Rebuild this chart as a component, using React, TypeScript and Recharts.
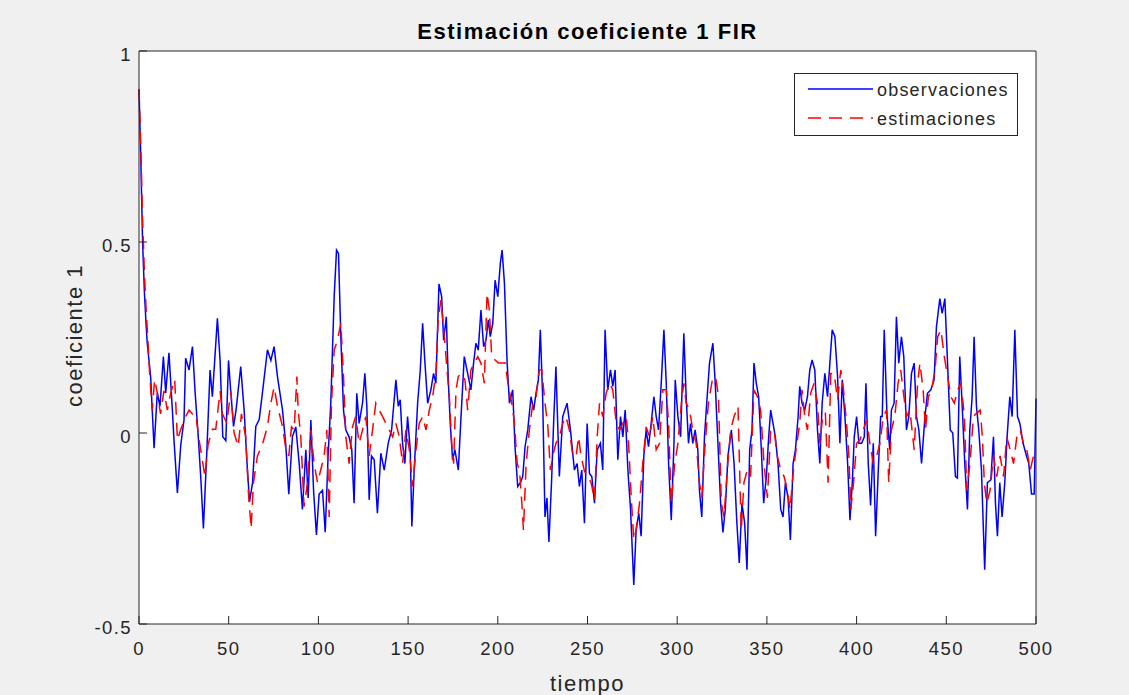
import { LineChart, Line, XAxis, YAxis, CartesianGrid, Legend, Label } from "recharts";

const tiempoObs = [
  0, 1, 2, 3, 4, 4.6, 6.5, 8.4, 10.2, 11.7, 13.6, 14.9, 16.7, 18.6, 19.5, 21.4, 23.3, 25.1, 26, 27.9,
  29.8, 31.3, 32.9, 34.4, 35.9, 37.8, 39.6, 40.9, 42.2, 43.7, 45.2, 46.7, 48.4, 49.9, 51.2, 52.7, 54.1, 56.7, 58.6, 60.1,
  61.6, 63.3, 65.1, 67, 68.8, 71.6, 73.5, 75.3, 77.2, 80, 81.8, 83.5, 85.5, 87.4, 89.3, 91.1, 93, 94.3, 95.8, 97.3,
  98.9, 100.4, 102.3, 103.8, 105.4, 106.9, 108.8, 110.1, 111.2, 112.5, 114, 115.3, 117.1, 118.6, 119.9, 121.4, 122.7, 124.6, 125.9, 127,
  128.3, 129.6, 131.1, 132.9, 134.8, 136.7, 138.9, 140.8, 143.2, 144.5, 145.6, 146.9, 148.2, 149.7, 151.2, 152.1, 153.4, 155.3, 156.8, 158.1,
  159.4, 160.9, 162.7, 164.2, 165.5, 167.2, 168.7, 169.8, 171.3, 172.4, 173.5, 174.8, 176.1, 178, 179.5, 181.3, 183.2, 185, 186.5, 187.8,
  189.1, 190.6, 192.1, 193.4, 194.7, 195.8, 197.2, 198.5, 200, 201.4, 202.4, 203.7, 205.2, 206.5, 208.3, 209.6, 211.1, 212.6, 213.9, 215.2,
  216.7, 218.5, 220, 221.3, 222.6, 223.7, 225, 226.3, 227.4, 228.5, 230, 231.1, 232.4, 234.3, 236.2, 238.6, 240.5, 242.7, 244.2, 245.5,
  246.8, 248.3, 249.8, 251.1, 252.4, 253.9, 255.4, 257.2, 258.5, 259.8, 261.3, 262.8, 264.1, 265.4, 266.9, 268.4, 269.7, 271, 272.5, 274,
  275.8, 277.1, 278.6, 279.9, 281.4, 282.7, 284, 285.5, 287, 288.3, 289.6, 291.1, 292.6, 293.9, 295.2, 296.7, 298.2, 298.9, 300.4, 301.9,
  303.7, 305, 306.3, 307.4, 308.7, 310, 311.5, 312.4, 313.7, 315.2, 316.7, 318, 319.9, 321.2, 322.7, 324.2, 325.5, 326.8, 328.3, 330.2,
  331.7, 333.2, 334.6, 336.1, 337.6, 338.9, 340.4, 341.7, 342.8, 344.1, 345.4, 346.9, 348.2, 349.7, 351, 352.1, 353.4, 354.7, 356.2, 357.7,
  359, 360.3, 361.8, 363.1, 364.6, 365.9, 367.4, 368.3, 369.6, 371.1, 372.6, 373.9, 375.2, 376.7, 378.2, 379.5, 380.8, 382.3, 383.8, 385.1,
  386.4, 387.9, 389.4, 390.7, 392, 393.5, 395, 396.3, 397.6, 398.7, 400, 401.3, 402.8, 404.3, 405.2, 406.5, 407.8, 409.3, 410.6, 412.1,
  413.4, 414.3, 415.4, 416.9, 418.5, 419.4, 420.9, 422.2, 423.5, 425, 426.3, 427.8, 429.1, 430.6, 432.1, 433.4, 434.7, 436.2, 438.1, 439.5,
  441.4, 443.2, 444.5, 446.4, 447.7, 449.2, 450.7, 452.2, 453.6, 455.1, 456.2, 457.5, 458.8, 460.3, 461.8, 463.1, 464.4, 465.5, 466.8, 468.1,
  469.6, 471.4, 472.9, 474.8, 476.3, 477.4, 478.5, 479.8, 481.1, 482.6, 483.9, 485.4, 486.7, 488.2, 489.7, 491, 492.8, 494.7, 496, 497.5,
  499, 500,
];

const observaciones = [
  0.9, 0.72, 0.5, 0.37, 0.28, 0.235, 0.147, -0.04, 0.105, 0.07, 0.2, 0.105, 0.21, 0.06, -0.018, -0.157, -0.03, 0.034, 0.196, 0.165,
  0.226, 0.105, 0, -0.114, -0.25, -0.05, 0.165, 0.095, 0.19, 0.3, 0.19, -0.01, -0.02, 0.19, 0.105, 0.017, 0.06, 0.174, 0.06, -0.07,
  -0.18, -0.13, 0.017, 0.035, 0.105, 0.218, 0.19, 0.226, 0.147, 0.06, -0.03, -0.16, -0.01, 0.016, -0.08, -0.2, -0.044, -0.17, 0.034, -0.15,
  -0.267, -0.16, -0.15, -0.26, -0.06, 0.078, 0.357, 0.479, 0.47, 0.252, 0.06, 0.008, -0.01, -0.044, -0.184, 0.104, 0.025, 0.078, 0.156, 0.07,
  -0.175, -0.06, -0.07, -0.21, -0.053, -0.097, -0.027, 0.008, 0.139, 0.07, 0.087, -0.027, -0.08, 0.043, -0.044, -0.245, -0.097, 0.078, 0.165, 0.287,
  0.183, 0.078, 0.113, 0.156, 0.13, 0.39, 0.357, 0.243, 0.304, 0.139, 0.025, -0.07, -0.044, -0.097, 0.043, 0.2, 0.156, 0.113, 0.183, 0.235,
  0.217, 0.322, 0.226, 0.243, 0.296, 0.252, 0.287, 0.4, 0.357, 0.444, 0.479, 0.392, 0.183, 0.078, 0.113, -0.036, -0.14, -0.13, -0.114, -0.036,
  0.008, 0.095, 0.06, 0.104, 0.139, 0.27, 0.095, -0.22, -0.17, -0.285, -0.123, 0.025, 0.174, -0.114, 0.043, 0.078, 0.008, -0.097, -0.08, -0.14,
  -0.097, -0.236, 0.025, -0.106, -0.114, -0.184, -0.044, -0.027, -0.097, 0.27, 0.113, 0.165, 0.122, 0.165, -0.07, 0.043, -0.01, 0.06, -0.097, -0.2,
  -0.398, -0.254, -0.21, -0.27, -0.06, 0.008, -0.036, 0.025, 0.095, 0.043, 0.008, 0.13, 0.27, 0.13, -0.08, -0.228, -0.027, 0.139, 0.043, -0.01,
  0.261, 0.095, -0.027, 0.025, -0.027, 0.008, -0.044, -0.15, -0.22, -0.01, 0.095, 0.183, 0.235, 0.13, -0.027, -0.184, -0.26, -0.2, -0.06, 0.008,
  -0.08, -0.23, -0.34, -0.184, -0.236, -0.358, -0.044, 0.008, 0.183, 0.13, 0.095, -0.044, -0.184, -0.114, -0.01, 0.06, 0.025, -0.01, -0.08, -0.2,
  -0.22, -0.13, -0.17, -0.28, -0.08, -0.044, 0.043, 0.122, 0.078, 0.06, 0.095, 0.165, 0.191, 0.165, 0.008, -0.08, 0.078, 0.156, 0.095, 0.183,
  0.27, 0.252, 0.148, -0.027, 0.139, 0.043, -0.08, -0.228, -0.13, -0.01, 0.043, -0.027, -0.027, -0.01, 0.13, -0.08, -0.19, -0.027, -0.27, -0.097,
  0.043, 0.043, 0.27, 0.05, -0.044, 0.06, 0.078, 0.304, 0.183, 0.252, 0.2, 0.008, 0.043, 0.156, 0.183, 0.043, 0.008, -0.08, 0.043, 0.104,
  0.113, 0.139, 0.278, 0.352, 0.313, 0.352, 0.183, 0.008, 0, -0.114, -0.118, 0.2, 0.078, -0.08, -0.2, 0.008, 0.095, 0.252, 0.07, 0.008,
  -0.097, -0.358, -0.13, -0.123, -0.01, -0.184, -0.27, -0.13, -0.22, -0.13, -0.01, 0.095, 0.043, 0.27, 0.043, 0.025, -0.027, -0.06, -0.08, -0.16,
  -0.16, 0.09,
];

const tiempoEst = [
  0, 1, 2, 3, 4, 5, 6, 7.4, 8.7, 10.2, 12, 13.9, 15.8, 17.7, 19.9, 21.4, 23.3, 26, 27.9, 29.8,
  31.6, 33.5, 35.3, 36.7, 38.5, 40.9, 42.8, 45.2, 46.5, 48.9, 51.2, 53, 55.3, 57.1, 59.5, 61, 62.5, 63.8, 66, 68.8,
  71.6, 73.5, 75.3, 77.2, 80, 81.8, 83.5, 85, 86.5, 88, 88.7, 90.2, 92, 93.9, 95.8, 97.6, 99.5, 101.3, 103.2, 104.7,
  106, 107.3, 108.8, 110.6, 112.5, 114, 115.3, 117.1, 119, 120.8, 122.7, 124.6, 126.4, 128.3, 130.2, 132, 133.9, 135.8, 137.6, 139.5,
  141.4, 143.2, 145.1, 146.9, 148.8, 150.7, 152.5, 154.4, 156.2, 158.1, 160, 161.8, 163.7, 165.5, 166.8, 168.3, 170.2, 171.7, 173, 174.3,
  175.4, 176.7, 178, 179.9, 181.7, 183.2, 185, 186.9, 188.8, 190.6, 192.5, 194, 195.3, 196.6, 198.5, 200.3, 202.2, 204.1, 205.9, 207.8,
  209.3, 210.8, 212.1, 213.4, 214.3, 215.8, 217.6, 219.5, 221.3, 223.2, 224.5, 226.3, 227.8, 229.3, 230.6, 232.4, 234.3, 236.2, 238, 239.9,
  241.8, 243.7, 245, 246.4, 248.3, 250.2, 252, 253.9, 255.4, 256.7, 258.5, 260.4, 262.3, 264.1, 266, 267.9, 269.7, 271.6, 272.9, 274.4,
  275.8, 277.1, 279, 280.8, 282.7, 284.6, 286.4, 288.3, 290.2, 292, 293.9, 295.2, 296.7, 298.6, 300.4, 302.3, 303.7, 305, 306.9, 308.7,
  310.6, 312.4, 313.7, 315.6, 317.4, 319.9, 321.7, 323, 324.6, 326.1, 327.9, 329.8, 331.7, 333.9, 334.8, 335.7, 337.2, 339.1, 340.9, 342.8,
  344.7, 346.5, 348.4, 350.3, 352.1, 354, 355.8, 357.7, 359.6, 361.4, 362.9, 364.8, 366.7, 368.3, 369.6, 371.1, 372.6, 374.4, 376.3, 378.2,
  379.5, 381.3, 382.6, 384.1, 385.6, 387.5, 389.4, 391.2, 392.7, 394.4, 395.7, 396.8, 398.3, 400, 401.9, 403.7, 405.6, 407.4, 409.3, 411.2,
  413, 414.9, 416.7, 417.9, 419.4, 421.3, 423.1, 424.6, 425.9, 427.8, 429.7, 432.1, 434, 435.3, 437.1, 438.4, 440, 441.8, 443.7, 445.2,
  447, 448.9, 450.7, 452.6, 454.5, 456.3, 458.2, 460.1, 461.4, 463.2, 465.1, 467, 468.9, 470.1, 471.2, 472.5, 474.4, 476.3, 478.1, 480,
  481.9, 483.7, 485.6, 487.5, 489.3, 491.2, 493, 494.9, 496.8, 498.6, 500,
];

const estimaciones = [
  0.9, 0.75, 0.56, 0.42, 0.32, 0.24, 0.15, 0.06, 0.14, 0.105, 0.05, 0.11, 0.06, 0.105, 0.14, -0.018, 0.01, 0.043, 0.06, 0.05,
  0.05, -0.018, -0.07, -0.114, -0.03, 0.01, 0.01, 0.11, 0.05, 0.026, 0.11, 0, -0.035, 0.05, -0.01, -0.157, -0.25, -0.13, -0.06, -0.03,
  0.017, 0.078, 0.12, 0.07, 0.017, -0.04, -0.06, 0.016, 0.008, 0.148, 0.06, -0.01, -0.193, -0.13, 0.008, -0.08, -0.13, -0.097, -0.06, 0.008,
  -0.22, 0.078, 0.217, 0.243, 0.287, 0.148, -0.01, -0.08, 0.016, 0.043, -0.027, 0.008, 0.043, -0.06, 0.008, 0.078, 0.06, 0.043, 0.025, 0.008,
  -0.01, 0.025, -0.01, -0.08, 0.008, -0.044, -0.14, -0.044, 0.025, 0.043, 0.008, 0.06, 0.095, 0.156, 0.3, 0.348, 0.252, 0.165, 0.095, -0.027,
  -0.08, 0.113, 0.148, 0.156, 0.139, 0.06, 0.165, 0.183, 0.2, 0.183, 0.13, 0.366, 0.322, 0.2, 0.191, 0.183, 0.183, 0.183, 0.122, 0.078,
  0.025, -0.08, -0.097, -0.184, -0.254, -0.08, 0.008, 0.078, 0.095, 0.165, 0.165, 0.078, 0.025, -0.097, -0.06, -0.027, -0.01, 0.025, 0.043, 0.008,
  -0.06, -0.06, -0.01, -0.06, -0.1, -0.114, -0.13, -0.175, -0.01, 0.078, 0.043, 0.104, 0.13, 0.113, 0.025, 0.008, 0.025, 0.043, -0.027, -0.17,
  -0.28, -0.254, -0.184, -0.08, 0.016, -0.01, 0.043, -0.044, -0.027, 0.113, 0.113, 0.025, -0.184, -0.08, -0.027, 0.078, 0.13, 0.078, 0.06, 0.008,
  -0.027, -0.13, -0.17, -0.027, 0.078, 0.148, 0.139, 0.095, -0.184, -0.22, -0.097, 0.008, 0.043, 0.07, -0.097, -0.254, -0.13, -0.097, -0.114, 0.113,
  0.095, 0.06, -0.08, -0.17, 0.008, 0.008, -0.06, -0.097, -0.114, -0.15, -0.2, -0.097, -0.027, 0.025, 0.113, 0.043, 0.008, 0.104, 0.13, 0.078,
  -0.027, 0.052, 0.052, -0.13, 0.156, 0.156, 0.087, 0.165, 0.113, 0.025, -0.06, -0.2, -0.13, -0.027, -0.018, 0.008, 0.034, -0.027, -0.08, -0.06,
  -0.027, 0.043, 0.06, -0.13, 0.008, 0.043, 0.13, 0.165, 0.113, 0.043, 0.06, -0.044, 0.13, 0.183, 0.113, 0.008, 0.095, 0.113, 0.165, 0.252,
  0.27, 0.2, 0.148, 0.095, 0.078, 0.113, 0.13, 0.043, -0.15, -0.08, 0.043, 0.052, 0.06, -0.01, -0.13, -0.184, -0.15, -0.06, -0.114, -0.06,
  -0.114, -0.01, -0.044, -0.08, -0.01, 0.008, -0.027, -0.044, -0.097, -0.06, -0.06,
];

const ticksTiempo = [0, 50, 100, 150, 200, 250, 300, 350, 400, 450, 500];
const ticksCoef = [-0.5, 0, 0.5, 1];

const obsData = tiempoObs.map((t, i) => ({ t, v: observaciones[i] }));
const estData = tiempoEst.map((t, i) => ({ t, v: estimaciones[i] }));

const axisColor = "#262626";
const font = '"Liberation Sans", Arial, Helvetica, sans-serif';
const dashRojo = "13 8";

const legendOrder = ["observaciones", "estimaciones"];
const dashes: Record<string, string | undefined> = {
  observaciones: undefined,
  estimaciones: dashRojo,
};

// leyenda estilo MATLAB: caja blanca con borde
const MatlabLegend = ({ payload }: any) => {
  const items = legendOrder
    .map((name) => (payload || []).find((p: any) => p.value === name))
    .filter(Boolean);
  return (
    <svg width={224} height={63} style={{ display: "block" }}>
      <rect x={0.5} y={0.5} width={223} height={62} fill="#ffffff" stroke={axisColor} strokeWidth={1} />
      {items.map((entry: any, i: number) => {
        const y = 16 + i * 29;
        return (
          <g key={entry.value}>
            <line
              x1={14}
              x2={79}
              y1={y}
              y2={y}
              stroke={entry.color}
              strokeWidth={1.5}
              strokeDasharray={dashes[entry.value]}
            />
            <text x={83} y={y + 6.5} fontSize={18} letterSpacing={1.2} fontFamily={font} fill={axisColor}>
              {entry.value}
            </text>
          </g>
        );
      })}
    </svg>
  );
};

const tickX = { fontSize: 18.5, fill: axisColor, fontFamily: font, letterSpacing: 1.4 };
const tickY = { fontSize: 18.5, fill: axisColor, fontFamily: font, letterSpacing: 1.4, dy: 3 };

export default function App() {
  return (
    <div style={{ position: "absolute", left: 0, top: 0, width: 1129, height: 695, background: "#f0f0f0" }}>
      <LineChart width={1129} height={695} margin={{ top: 50, right: 92, bottom: 0, left: 11 }}>
        <CartesianGrid fill="#ffffff" horizontal={false} vertical={false} />
        <XAxis
          type="number"
          dataKey="t"
          domain={[0, 500]}
          ticks={ticksTiempo}
          height={71}
          tickSize={-8}
          tickMargin={26}
          stroke={axisColor}
          tick={tickX}
          interval={0}
        >
          <Label
            value="tiempo"
            position="center"
            dy={24}
            fontSize={22}
            letterSpacing={1.5}
            fill={axisColor}
            fontFamily={font}
          />
        </XAxis>
        <XAxis
          xAxisId="top"
          orientation="top"
          type="number"
          dataKey="t"
          domain={[0, 500]}
          ticks={ticksTiempo}
          height={1}
          tickSize={-8}
          stroke={axisColor}
          tickFormatter={() => ""}
          interval={0}
        >
          <Label
            value="Estimación coeficiente 1 FIR"
            position="top"
            offset={11}
            fontSize={22}
            letterSpacing={1.5}
            fontWeight="bold"
            fill="#000000"
            fontFamily={font}
          />
        </XAxis>
        <YAxis
          type="number"
          domain={[-0.5, 1]}
          ticks={ticksCoef}
          width={128}
          tickSize={-8}
          tickMargin={15}
          stroke={axisColor}
          tick={tickY}
          interval={0}
        >
          <Label
            value="coeficiente 1"
            position="center"
            angle={-90}
            dx={-1}
            dy={-2}
            fontSize={22}
            letterSpacing={1.5}
            fill={axisColor}
            fontFamily={font}
          />
        </YAxis>
        <YAxis
          yAxisId="right"
          orientation="right"
          type="number"
          domain={[-0.5, 1]}
          ticks={ticksCoef}
          width={1}
          tickSize={-8}
          stroke={axisColor}
          tickFormatter={() => ""}
          interval={0}
        />
        <Legend
          layout="horizontal"
          verticalAlign="middle"
          align="center"
          content={<MatlabLegend />}
          wrapperStyle={{ left: 794, top: 73, width: 224, height: 63 }}
        />
        <Line
          data={obsData}
          dataKey="v"
          name="observaciones"
          stroke="#0000ff"
          strokeWidth={1.5}
          dot={false}
          activeDot={false}
          isAnimationActive={false}
        />
        <Line
          data={estData}
          dataKey="v"
          name="estimaciones"
          stroke="#ff0000"
          strokeWidth={1.5}
          strokeDasharray={dashRojo}
          dot={false}
          activeDot={false}
          isAnimationActive={false}
        />
      </LineChart>
    </div>
  );
}
